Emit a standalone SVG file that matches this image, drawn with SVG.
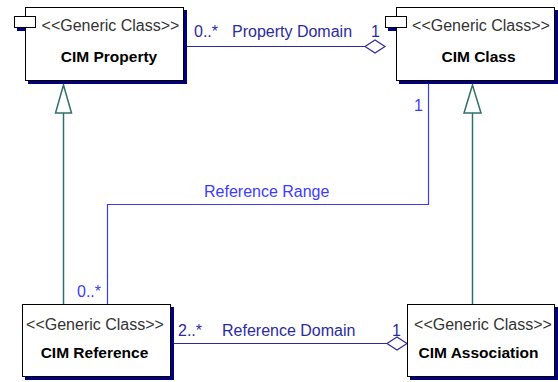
<svg xmlns="http://www.w3.org/2000/svg" width="558" height="382" viewBox="0 0 558 382">
<style>
.bg{fill:#ffffff}
.sh{fill:#000080}
.box{fill:#ffffff;stroke:#000000;stroke-width:1}
.st{font-family:"Liberation Sans",Arial,sans-serif;font-size:16px;fill:#333333;text-anchor:middle}
.nm{font-family:"Liberation Sans",Arial,sans-serif;font-size:15.5px;font-weight:bold;fill:#000000;text-anchor:middle}
.lbd{font-family:"Liberation Sans",Arial,sans-serif;font-size:16px;fill:#2b2b9e}
.lbb{font-family:"Liberation Sans",Arial,sans-serif;font-size:16px;fill:#3c3cff}
.dk{fill:none;stroke:#2b2b9e;stroke-width:1.2}
.br{fill:none;stroke:#3c3cff;stroke-width:1.2}
.gen{fill:none;stroke:#336e6e;stroke-width:1.5}
.tri{fill:#ffffff;stroke:#336e6e;stroke-width:1.5}
.dia{fill:#ffffff;stroke:#2b2b9e;stroke-width:1.2}
</style>
<rect class="bg" x="0" y="0" width="558" height="382"/>
<g id="connectors">
  <line class="dk" x1="187" y1="46.5" x2="365" y2="46.5"/>
  <polygon class="dia" points="365,46.5 375,40 385,46.5 375,53"/>
  <polyline class="br" points="428.5,84 428.5,204.5 107.5,204.5 107.5,304"/>
  <line class="dk" x1="174" y1="343.5" x2="387" y2="343.5"/>
  <polygon class="dia" points="387,343.5 397,337 407,343.5 397,350"/>
  <line class="gen" x1="63.5" y1="304" x2="63.5" y2="113"/>
  <polygon class="tri" points="63.5,85 55.5,113 71.5,113"/>
  <line class="gen" x1="472.5" y1="304" x2="472.5" y2="113"/>
  <polygon class="tri" points="472.5,85 464,113 481,113"/>
  <text class="lbd" x="194" y="37">0..*</text>
  <text class="lbd" x="232" y="37">Property Domain</text>
  <text class="lbd" x="371" y="37">1</text>
  <text class="lbb" x="204" y="197">Reference Range</text>
  <text class="lbb" x="414" y="111">1</text>
  <text class="lbb" x="77" y="297">0..*</text>
  <text class="lbd" x="178" y="336">2..*</text>
  <text class="lbd" x="222" y="336">Reference Domain</text>
  <text class="lbd" x="392" y="336">1</text>
</g>
<g id="cim-property">
  <rect class="sh" x="17" y="19" width="21" height="12"/>
  <rect class="sh" x="28" y="10" width="159" height="74"/>
  <rect class="box" x="25.5" y="7.5" width="158" height="73"/>
  <rect class="box" x="14.5" y="16.5" width="21" height="11"/>
  <text class="st" x="110.5" y="31">&lt;&lt;Generic Class&gt;&gt;</text>
  <text class="nm" x="109" y="62">CIM Property</text>
</g>
<g id="cim-class">
  <rect class="sh" x="388" y="19" width="21" height="12"/>
  <rect class="sh" x="399" y="10" width="159" height="74"/>
  <rect class="box" x="396.5" y="7.5" width="158" height="73"/>
  <rect class="box" x="385.5" y="16.5" width="21" height="11"/>
  <text class="st" x="481" y="31">&lt;&lt;Generic Class&gt;&gt;</text>
  <text class="nm" x="478.5" y="62">CIM Class</text>
</g>
<g id="cim-reference">
  <rect class="sh" x="25" y="307" width="149" height="73"/>
  <rect class="box" x="22.5" y="304.5" width="148" height="72"/>
  <text class="st" x="95" y="330">&lt;&lt;Generic Class&gt;&gt;</text>
  <text class="nm" x="94.5" y="358">CIM Reference</text>
</g>
<g id="cim-association">
  <rect class="sh" x="410" y="307" width="148" height="73"/>
  <rect class="box" x="407.5" y="304.5" width="147" height="72"/>
  <text class="st" x="483" y="330">&lt;&lt;Generic Class&gt;&gt;</text>
  <text class="nm" x="478.5" y="358">CIM Association</text>
</g>
</svg>
